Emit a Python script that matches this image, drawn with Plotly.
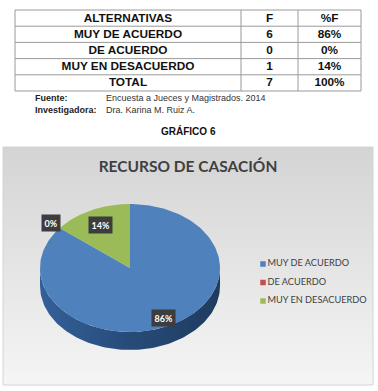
import numpy as np
import plotly.graph_objects as go

# ---------------- data ----------------
header = ["ALTERNATIVAS", "F", "%F"]
categories = ["MUY DE ACUERDO", "DE ACUERDO", "MUY EN DESACUERDO"]
frequencies = [6, 0, 1]
percentages = [86, 0, 14]
total_label = "TOTAL"
total_pct = 100
source_label = "Fuente:"
source_text = "Encuesta a Jueces y Magistrados. 2014"
author_label = "Investigadora:"
author_text = "Dra. Karina M. Ruiz A."
figure_caption = "GRÁFICO 6"
chart_title = "RECURSO DE CASACIÓN"

# ---------------- style ----------------
colors = ["#4f81bd", "#c0504d", "#9bbb59"]
W, H = 378, 391
TXT = "#404040"
TFONT = "Liberation Sans, Arial, sans-serif"
CFONT = "Lato, Open Sans, sans-serif"

fig = go.Figure()

# ---------- table (grid + cell texts on pixel axes) ----------
col_edges = [15, 241, 298, 361]
row_top, row_h = 10, 16.2
rows = [header] + [[c, str(f), f"{p}%"] for c, f, p in zip(categories, frequencies, percentages)] \
       + [[total_label, str(sum(frequencies)), f"{total_pct}%"]]
n_rows = len(rows)
row_edges = [row_top + k * row_h for k in range(n_rows + 1)]

gx, gy = [], []
for yv in row_edges:
    gx += [col_edges[0], col_edges[-1], None]
    gy += [yv, yv, None]
for xv in col_edges:
    gx += [xv, xv, None]
    gy += [row_edges[0], row_edges[-1], None]
fig.add_trace(go.Scatter(x=gx, y=gy, mode="lines", line=dict(color="#9a9a9a", width=1),
                         hoverinfo="skip", showlegend=False))

tx, ty, tt = [], [], []
for r, row in enumerate(rows):
    for c, val in enumerate(row):
        tx.append((col_edges[c] + col_edges[c + 1]) / 2)
        ty.append((row_edges[r] + row_edges[r + 1]) / 2 + 0.5)
        tt.append(f"<b>{val}</b>")
fig.add_trace(go.Scatter(x=tx, y=ty, mode="text", text=tt, textposition="middle center",
                         textfont=dict(family=TFONT, size=11.8, color="#111"),
                         hoverinfo="skip", showlegend=False))

# ---------- chart background ----------
bx0, bx1, by0, by1 = 3, 373, 147, 385
fig.add_trace(go.Scatter(
    x=[bx0, bx1, bx1, bx0, bx0], y=[by0, by0, by1, by1, by0], mode="lines",
    fill="toself", line=dict(color="#d4d4d4", width=1),
    fillgradient=dict(type="vertical", colorscale=[[0, "#f5f5f5"], [1, "#d4d4d4"]]),
    hoverinfo="skip", showlegend=False))

# ---------- 3D-looking pie ----------
cx, cy, rx, ry, depth = 130, 268, 90, 64, 18
fractions = np.array(frequencies, dtype=float) / sum(frequencies)
bounds = np.concatenate([[0.0], np.cumsum(fractions)]) * 360.0


def ell(theta, dy=0.0):
    t = np.radians(theta)
    return cx + rx * np.sin(t), cy - ry * np.cos(t) + dy


for i in range(len(categories)):
    a0, a1 = max(bounds[i], 90), min(bounds[i + 1], 270)
    if a1 <= a0:
        continue
    th = np.linspace(a0, a1, 120)
    xt, yt = ell(th)
    xb, yb = ell(th[::-1], depth)
    fig.add_trace(go.Scatter(
        x=np.concatenate([xt, xb, xt[:1]]), y=np.concatenate([yt, yb, yt[:1]]),
        mode="lines", fill="toself", line=dict(width=0, color="#274b78"),
        fillgradient=dict(type="horizontal",
                          colorscale=[[0, "#33609a"], [0.5, "#274b78"], [1, "#1f3b5f"]]),
        hoverinfo="skip", showlegend=False))

for i in range(len(categories)):
    if fractions[i] <= 0:
        continue
    th = np.linspace(bounds[i], bounds[i + 1], 200)
    xa, ya = ell(th)
    fig.add_trace(go.Scatter(
        x=np.concatenate([[cx], xa, [cx]]), y=np.concatenate([[cy], ya, [cy]]),
        mode="lines", fill="toself", fillcolor=colors[i],
        line=dict(width=0, color=colors[i]), hoverinfo="skip", showlegend=False))

# data labels
label_factor = [0.87, 1.12, 0.75]
for i in range(len(categories)):
    mid = (bounds[i] + bounds[i + 1]) / 2
    t = np.radians(mid)
    lx = cx + rx * label_factor[i] * np.sin(t)
    ly = cy - ry * label_factor[i] * np.cos(t)
    fig.add_annotation(x=lx, y=ly, text=f"<b>{percentages[i]}%</b>", showarrow=False,
                       bgcolor="#3d3d3d", borderpad=2.5,
                       font=dict(family=CFONT, size=9, color="white"))

# legend (markers + text)
leg_x, leg_y0, leg_dy = 263, 264, 18.5
fig.add_trace(go.Scatter(
    x=[leg_x] * len(categories), y=[leg_y0 + k * leg_dy for k in range(len(categories))],
    mode="markers+text", text=categories, textposition="middle right",
    marker=dict(symbol="square", size=5.5, color=colors),
    textfont=dict(family=CFONT, size=9.2, color=TXT),
    hoverinfo="skip", showlegend=False))

# ---------- page texts ----------
def note(x, y, text, bold=False, size=9, anchor="left", color="#222"):
    fig.add_annotation(x=x, y=y, text=f"<b>{text}</b>" if bold else text, showarrow=False,
                       xanchor=anchor, yanchor="middle",
                       font=dict(family=TFONT, size=size, color=color))


note(33, 98, source_label, bold=True)
note(104, 98, source_text, color="#333")
note(33, 110, author_label, bold=True)
note(104, 110, author_text, color="#333")
note(188, 131, figure_caption, bold=True, size=10, anchor="center", color="#111")

fig.update_layout(
    width=W, height=H, margin=dict(l=0, r=0, t=0, b=0),
    paper_bgcolor="white", plot_bgcolor="white", showlegend=False,
    title=dict(text=f"<b>{chart_title}</b>", x=188 / W, xanchor="center",
               y=1 - 167 / H, yanchor="middle",
               font=dict(family=CFONT, size=15.5, color=TXT)),
    xaxis=dict(range=[0, W], visible=False, fixedrange=True),
    yaxis=dict(range=[H, 0], visible=False, fixedrange=True),
)

fig.write_html("out.html")
